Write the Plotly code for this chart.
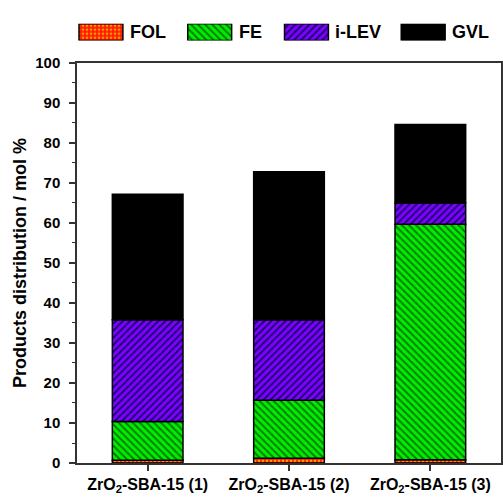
import numpy as np
import plotly.graph_objects as go

categories = ["ZrO<sub>2</sub>-SBA-15 (1)", "ZrO<sub>2</sub>-SBA-15 (2)", "ZrO<sub>2</sub>-SBA-15 (3)"]
series_names = ["FOL", "FE", "i-LEV", "GVL"]
fol = [0.7, 1.2, 0.8]
fe = [9.7, 14.5, 58.9]
ilev = [25.4, 20.1, 5.3]
gvl = [31.4, 37.0, 19.6]
y_ticks = [0, 10, 20, 30, 40, 50, 60, 70, 80, 90, 100]

styles = {
    "FOL": dict(color="#ff1a00", pattern=dict(shape=".", bgcolor="#ff1a00", fgcolor="#ff9a00", size=4, solidity=0.35, fillmode="replace")),
    "FE": dict(color="#00ee00", pattern=dict(shape="\\", bgcolor="#00ee00", fgcolor="#007a00", size=5, solidity=0.38, fillmode="replace")),
    "i-LEV": dict(color="#8000ff", pattern=dict(shape="/", bgcolor="#8000ff", fgcolor="#1a0070", size=5, solidity=0.38, fillmode="replace")),
    "GVL": dict(color="#000000", pattern=None),
}

values = [fol, fe, ilev, gvl]
x_idx = np.arange(len(categories))
fig = go.Figure()
base = np.zeros(len(categories))
for name, vals in zip(series_names, values):
    st = styles[name]
    marker = dict(color=st["color"], line=dict(color="black", width=1.5))
    if st["pattern"]:
        marker["pattern"] = st["pattern"]
    fig.add_trace(go.Bar(x=x_idx, y=vals, base=base.copy(), width=0.5, marker=marker,
                         name=name, showlegend=False, xaxis="x", yaxis="y"))
    base = base + np.array(vals)

# custom legend row (pixel-like coordinates on a helper axis)
legend_x = [79, 188, 285, 402]
legend_w = 44
for name, lx in zip(series_names, legend_x):
    st = styles[name]
    marker = dict(color=st["color"], line=dict(color="black", width=1.5))
    if st["pattern"]:
        marker["pattern"] = st["pattern"]
    fig.add_trace(go.Bar(y=[0], x=[legend_w], base=[lx], orientation="h", width=1,
                         marker=marker, showlegend=False, xaxis="x2", yaxis="y2",
                         hoverinfo="skip"))
    fig.add_annotation(x=lx + legend_w + 5, y=0, xref="x2", yref="y2", text=name,
                       showarrow=False, xanchor="left", yanchor="middle",
                       font=dict(family="Liberation Sans, Arial", size=18, color="black", weight="bold"))

fig.update_layout(
    width=503, height=498,
    margin=dict(l=77, r=1, t=0, b=35),
    barmode="overlay",
    paper_bgcolor="white", plot_bgcolor="white",
    font=dict(family="Liberation Sans, Arial", color="black"),
    xaxis=dict(range=[-0.5, 2.5], tickvals=list(x_idx), ticktext=categories,
               ticks="outside", ticklen=6, tickwidth=1.5, tickcolor="#333",
               showline=True, linecolor="#333", linewidth=1.5, mirror=True,
               showgrid=False, zeroline=False, domain=[0, 1],
               tickfont=dict(size=16, weight="bold", color="black")),
    yaxis=dict(range=[0, 100], tickvals=y_ticks, domain=[0, 408 / 463],
               ticks="outside", ticklen=6, tickwidth=1.5, tickcolor="#333",
               ticklabelstandoff=6,
               minor=dict(ticks="outside", ticklen=3, tickwidth=1.2, tickcolor="#333", dtick=5),
               showline=True, linecolor="#333", linewidth=1.5, mirror=True,
               showgrid=False, zeroline=False,
               tickfont=dict(size=15, weight="bold", color="black"),
               title=dict(text="Products distribution / mol %", standoff=4,
                          font=dict(size=18, weight="bold", color="black"))),
    xaxis2=dict(range=[77, 502], domain=[0, 1], visible=False, anchor="y2", fixedrange=True),
    yaxis2=dict(range=[-0.5, 0.5], domain=[(463 - 32) / 463, (463 - 15) / 463], visible=False,
                anchor="x2", fixedrange=True),
)

fig.write_html("out.html")
